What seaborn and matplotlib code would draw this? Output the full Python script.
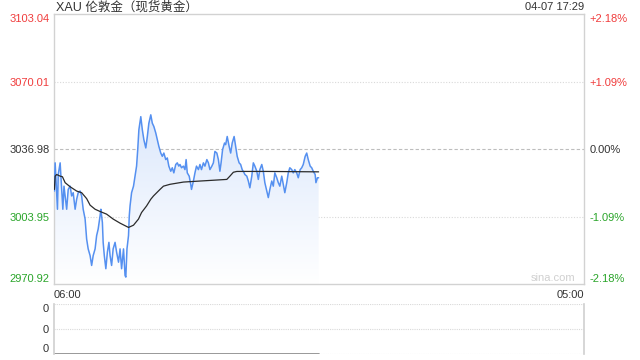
import numpy as np
import pandas as pd
import matplotlib
matplotlib.use("Agg")
import matplotlib.pyplot as plt
from matplotlib.colors import LinearSegmentedColormap
import seaborn as sns

# ---------------- data ----------------
title = "XAU 伦敦金（现货黄金）"
stamp = "04-07 17:29"
prev_close = 3036.98
y_ticks = [2970.92, 3003.95, 3036.98, 3070.01, 3103.04]
pct_labels = ["-2.18%", "-1.09%", "0.00%", "+1.09%", "+2.18%"]
x_tick_labels = ["06:00", "05:00"]
session_minutes = 1380  # 06:00 -> 05:00

minutes = [1, 3, 9, 11, 16, 20, 23, 26, 29, 33,
           37, 42, 46, 50, 55, 59, 63, 68, 72, 76,
           81, 85, 89, 94, 98, 102, 107, 111, 115, 120,
           122, 126, 128, 131, 135, 139, 143, 146, 150, 154,
           159, 163, 168, 172, 176, 181, 185, 187, 190, 194,
           196, 198, 202, 207, 211, 215, 218, 221, 226, 230,
           234, 239, 243, 247, 252, 256, 260, 265, 269, 273,
           278, 282, 286, 291, 295, 299, 304, 308, 312, 317,
           321, 325, 328, 332, 337, 341, 344, 347, 352, 356,
           358, 363, 367, 371, 376, 380, 384, 389, 393, 398,
           402, 406, 411, 415, 419, 424, 428, 432, 435, 439,
           444, 447, 451, 456, 460, 464, 469, 473, 477, 482,
           486, 490, 495, 497, 502, 506, 510, 515, 519, 523,
           528, 532, 536, 541, 545, 549, 554, 558, 562, 567,
           571, 575, 580, 584, 588, 593, 597, 601, 606, 610,
           614, 619, 623, 627, 632, 636, 641, 645, 649, 654,
           658, 662, 667, 671, 675, 680, 682, 686, 689]

prices = [3016.4, 3030.2, 3007.5, 3024.5, 3030.2, 3017.2, 3007.5, 3018.8, 3014.0, 3007.5,
          3017.2, 3018.8, 3014.0, 3015.6, 3007.5, 3012.4, 3015.6, 3016.4, 3014.0, 3007.5,
          3002.7, 2992.9, 2988.1, 2984.8, 2980.0, 2984.8, 2988.1, 2994.6, 2997.8, 3004.3,
          3007.5, 3001.0, 2991.3, 2984.8, 2978.4, 2986.5, 2991.3, 2984.8, 2980.0, 2988.1,
          2991.3, 2986.5, 2981.6, 2988.1, 2978.4, 2988.1, 2975.1, 2974.3, 2988.1, 2994.6,
          3004.3, 3009.1, 3015.6, 3018.8, 3023.7, 3028.6, 3036.7, 3046.4, 3052.8, 3046.4,
          3041.5, 3037.5, 3043.1, 3049.6, 3053.7, 3049.6, 3048.0, 3044.8, 3041.5, 3038.3,
          3035.0, 3033.4, 3035.0, 3031.8, 3032.6, 3028.6, 3026.1, 3027.8, 3025.3, 3029.4,
          3030.2, 3028.6, 3029.4, 3027.8, 3028.6, 3026.9, 3031.8, 3025.3, 3023.7, 3019.7,
          3017.2, 3021.3, 3025.3, 3028.6, 3026.9, 3029.4, 3026.9, 3030.2, 3028.6, 3031.8,
          3030.2, 3026.9, 3028.6, 3030.2, 3035.8, 3035.0, 3031.8, 3026.1, 3030.2, 3036.7,
          3039.9, 3039.1, 3043.1, 3038.3, 3035.0, 3039.9, 3043.1, 3038.3, 3033.4, 3030.2,
          3029.4, 3026.9, 3025.3, 3024.5, 3023.7, 3021.3, 3018.0, 3023.7, 3030.2, 3028.6,
          3026.1, 3022.1, 3026.9, 3029.4, 3026.1, 3020.5, 3016.4, 3013.2, 3017.2, 3021.3,
          3018.8, 3025.3, 3022.9, 3020.5, 3018.8, 3023.7, 3019.7, 3015.6, 3020.5, 3025.3,
          3027.8, 3026.9, 3025.3, 3026.9, 3025.3, 3022.9, 3026.9, 3027.8, 3029.4, 3033.4,
          3035.0, 3031.8, 3028.6, 3027.8, 3026.1, 3024.5, 3020.5, 3022.9, 3022.9]

avg_minutes = [1, 3, 7, 16, 22, 29, 42, 59, 72, 85,
               94, 107, 120, 137, 154, 172, 194, 207, 220, 228,
               241, 252, 259, 276, 285, 302, 337, 380, 424, 450,
               458, 467, 476, 554, 689]
avg_prices = [3017.2, 3023.7, 3024.5, 3023.7, 3023.4, 3020.5, 3018.5, 3016.4, 3015.6, 3012.7,
              3009.5, 3007.5, 3006.4, 3005.1, 3002.7, 3000.7, 2998.6, 2999.7, 3002.7, 3005.9,
              3009.1, 3012.4, 3014.0, 3017.2, 3018.8, 3019.7, 3020.8, 3021.3, 3021.8, 3022.1,
              3023.7, 3025.6, 3026.0, 3026.0, 3025.8]

vol_tick_labels = ["0", "0", "0"]

# ---------------- style ----------------
sns.set_theme(style="white")
plt.rcParams["font.family"] = ["Liberation Sans", "Noto Sans CJK SC", "DejaVu Sans"]

RED = "#f03c3c"
GREEN = "#2aa52a"
DARK = "#333333"
BLUE = "#5590f0"
BORDER = "#d2d2d2"
GRID = "#d9d9d9"

df = pd.DataFrame({"minute": minutes, "price": prices})
dfa = pd.DataFrame({"minute": avg_minutes, "avg": avg_prices})

fig = plt.figure(figsize=(6.4, 3.6), dpi=100)
ax = fig.add_axes([54 / 640, 1 - 284 / 360, 530 / 640, 270 / 360])
axv = fig.add_axes([54 / 640, 1 - 354 / 360, 530 / 640, 50 / 360])

ymin, ymax = y_ticks[0], y_ticks[-1]

# gradient fill under price
poly = ax.fill_between(df["minute"], df["price"], ymin, color="none", lw=0)
cmap = LinearSegmentedColormap.from_list("g", ["#ffffff", "#dce8fc"])
grad = np.linspace(0, 1, 256).reshape(-1, 1)
img = ax.imshow(grad, extent=[df["minute"].min(), df["minute"].max(), ymin, max(prices)],
                aspect="auto", cmap=cmap, origin="lower", zorder=1)
img.set_clip_path(poly.get_paths()[0], transform=ax.transData)

# grid lines
ax.axhline(y_ticks[1], color=GRID, lw=0.8, ls=(0, (1, 1.5)), zorder=0.5)
ax.axhline(y_ticks[3], color=GRID, lw=0.8, ls=(0, (1, 1.5)), zorder=0.5)
ax.axhline(prev_close, color="#bdbdbd", lw=0.8, ls=(0, (3, 2)), zorder=0.5)

sns.lineplot(data=df, x="minute", y="price", ax=ax, color=BLUE, lw=1.1, zorder=3)
sns.lineplot(data=dfa, x="minute", y="avg", ax=ax, color="#2b2b2b", lw=0.9, zorder=4)

ax.set_xlim(0, session_minutes)
ax.set_ylim(ymin, ymax)
ax.set_xlabel("")
ax.set_ylabel("")
for s in ax.spines.values():
    s.set_color(BORDER)
    s.set_linewidth(1.0)

ax.set_yticks(y_ticks)
ax.set_yticklabels([f"{v:.2f}" for v in y_ticks])
ycols = [GREEN, GREEN, DARK, RED, RED]
for lab, c in zip(ax.get_yticklabels(), ycols):
    lab.set_color(c)
ax.get_yticklabels()[0].set_va("bottom")
ax.get_yticklabels()[-1].set_va("top")
ax.tick_params(axis="y", length=0, pad=3, labelsize=8)

ax.set_xticks([0, session_minutes])
ax.set_xticklabels(x_tick_labels)
ax.get_xticklabels()[0].set_ha("left")
ax.get_xticklabels()[1].set_ha("right")
for lab in ax.get_xticklabels():
    lab.set_color(DARK)
ax.tick_params(axis="x", length=0, pad=4, labelsize=8)

axr = ax.twinx()
axr.set_ylim(ymin, ymax)
axr.set_yticks(y_ticks)
axr.set_yticklabels(pct_labels)
for lab, c in zip(axr.get_yticklabels(), ycols):
    lab.set_color(c)
axr.get_yticklabels()[0].set_va("bottom")
axr.get_yticklabels()[-1].set_va("top")
axr.tick_params(axis="y", length=0, pad=4, labelsize=8)
for s in axr.spines.values():
    s.set_visible(False)

ax.text(0.983, 0.004, "sina.com", transform=ax.transAxes, ha="right", va="bottom",
        color="#d0d0d0", fontsize=8, zorder=5)

fig.text(56 / 640, 1 - 7 / 360, title, ha="left", va="center", color=DARK, fontsize=9)
fig.text(584 / 640, 1 - 7 / 360, stamp, ha="right", va="center", color=DARK, fontsize=8)

# volume panel
axv.set_xlim(0, session_minutes)
axv.set_ylim(0, 1)
for yv in (0, 0.5, 1):
    axv.axhline(yv, color=GRID, lw=0.8, ls=(0, (1, 1)), zorder=0.5)
axv.axhline(0, xmin=0, xmax=max(minutes) / session_minutes, color="#888888", lw=1.2, zorder=2)
axv.set_yticks([0, 0.5, 1])
axv.set_yticklabels(vol_tick_labels)
axv.get_yticklabels()[0].set_va("bottom")
axv.get_yticklabels()[-1].set_va("top")
axv.tick_params(axis="y", length=0, pad=4, labelsize=8, labelcolor=DARK)
axv.set_xticks([])
axv.spines["top"].set_visible(False)
axv.spines["bottom"].set_visible(False)
axv.spines["left"].set_color(BORDER)
axv.spines["right"].set_color(BORDER)

fig.savefig("out.png", dpi=100)
